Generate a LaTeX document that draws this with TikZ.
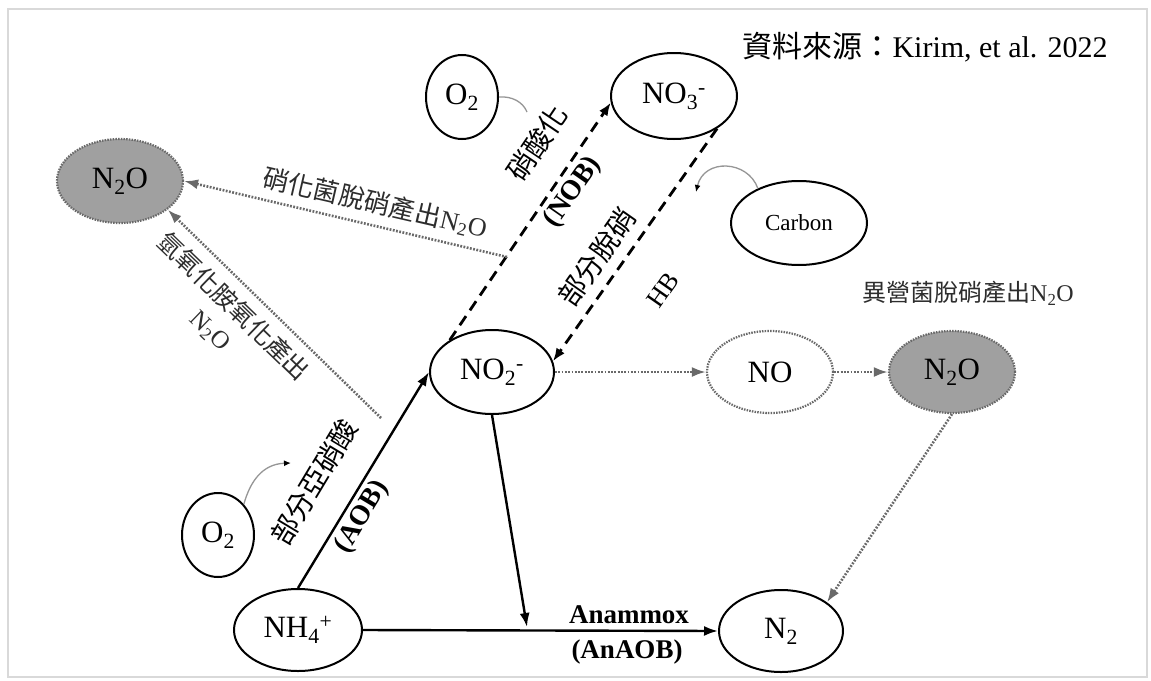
\documentclass[tikz,border=0pt]{standalone}
\usepackage{fontspec}
\setmainfont{Liberation Serif}
\newfontfamily\cjk{Noto Sans CJK TC}
\usetikzlibrary{shapes.geometric,arrows.meta}
\definecolor{dotgray}{RGB}{105,105,105}
\definecolor{fillgray}{RGB}{160,160,160}
\definecolor{lblgray}{RGB}{45,45,45}
\definecolor{curvegray}{RGB}{150,150,150}
\begin{document}
\begin{tikzpicture}[x=1pt,y=-1pt,
  ell/.style={ellipse, draw=black, line width=2pt, inner sep=0pt, font=\fontsize{31}{36}\selectfont},
  dotell/.style={ellipse, draw=dotgray, line width=2.2pt, dash pattern=on 1.5pt off 1.2pt, inner sep=0pt, font=\fontsize{31}{36}\selectfont},
  solidarrow/.style={line width=2.4pt, -{Latex[length=14pt,width=10pt]}},
  dasharrow/.style={line width=2.8pt, dash pattern=on 11pt off 7pt, -{Latex[length=13pt,width=10pt]}},
  dotarrow/.style={draw=dotgray, line width=2.6pt, dash pattern=on 1.8pt off 1.5pt, -{Latex[length=14pt,width=10pt]}},
  thincurve/.style={draw=curvegray, line width=1.3pt},
  lbl/.style={inner sep=0pt, text=black},
]
\useasboundingbox (0,0) rectangle (1151,680);
\fill[white] (0,0) rectangle (1151,680);
\draw[black!15, line width=2pt] (8,9) rectangle (1147,677);

% title
\node[lbl, font=\fontsize{30}{34}\selectfont] (title) at (925,47) {{\cjk 資料來源：}Kirim, et al. 2022};

% nodes
\node[ell, minimum width=72pt, minimum height=84pt] (o2t) at (462,97) {O\textsubscript{2}};
\node[ell, minimum width=126pt, minimum height=86pt] (no3) at (674,96) {NO\textsubscript{3}\textsuperscript{-}};
\node[dotell, fill=fillgray, minimum width=126pt, minimum height=84pt] (n2oL) at (120,181) {N\textsubscript{2}O};
\node[ell, minimum width=136pt, minimum height=84pt, font=\fontsize{23}{27}\selectfont] (carbon) at (799,223) {Carbon};
\node[ell, minimum width=124pt, minimum height=84pt] (no2) at (492,372) {NO\textsubscript{2}\textsuperscript{-}};
\node[dotell, fill=white, minimum width=126pt, minimum height=82pt] (no) at (770,372) {NO};
\node[dotell, fill=fillgray, minimum width=126pt, minimum height=82pt] (n2oR) at (952,372) {N\textsubscript{2}O};
\node[ell, minimum width=124pt, minimum height=82pt] (n2) at (781,631) {N\textsubscript{2}};
\node[ell, minimum width=128pt, minimum height=82pt] (nh4) at (298,630) {NH\textsubscript{4}\textsuperscript{+}};
\node[ell, minimum width=72pt, minimum height=84pt] (o2b) at (218,535) {O\textsubscript{2}};

% free ends
\coordinate (d1) at (507,257);
\coordinate (h1) at (381,418);
\coordinate (ana) at (527,627);
\coordinate (c1) at (527,112);
\coordinate (c2) at (696,192);
\coordinate (c3) at (291,463);

% solid arrows
\draw[solidarrow] (nh4.north) -- (no2.west);
\draw[solidarrow] (no2.south) -- (ana);
\draw[solidarrow] (nh4.east) -- (n2.west);

% dashed arrows
\draw[dasharrow] (no2.143) -- (no3.186);
\draw[dasharrow] (no3.-37) -- (no2.10);

% dotted arrows
\draw[dotarrow] (d1) -- (n2oL.east);
\draw[dotarrow] (h1) -- (n2oL.-31);
\draw[dotarrow] (no2.east) -- (no.west);
\draw[dotarrow] (no.east) -- (n2oR.west);
\draw[dotarrow] (n2oR.south) -- (n2.32);

% thin curves
\draw[thincurve] (o2t.east) .. controls (512,96) and (523,102) .. (c1);
\draw[thincurve, -{Latex[length=7pt,width=6pt,color=black]}] (carbon.140) .. controls (748,160) and (704,158) .. (c2);
\draw[thincurve, -{Latex[length=7pt,width=6pt,color=black]}] (o2b.50) .. controls (250,482) and (262,464) .. (c3);

% labels
\node[lbl, text=lblgray, rotate=-13, font=\fontsize{26}{30}\selectfont] (l1) at (375,203) {{\cjk 硝化菌脫硝產出}N\textsubscript{2}O};
\node[lbl, text=lblgray, rotate=-44, align=center, font=\fontsize{25}{32}\selectfont] (l2) at (222,318) {{\cjk 氫氧化胺氧化產出}\\N\textsubscript{2}O};
\node[lbl, rotate=56, font=\fontsize{28}{32}\selectfont] (l3) at (537,143) {\cjk 硝酸化};
\node[lbl, rotate=55, font=\fontsize{28}{32}\selectfont\bfseries] (l4) at (573,192) {(NOB)};
\node[lbl, rotate=55, font=\fontsize{28}{32}\selectfont] (l5) at (597,257) {\cjk 部分脫硝};
\node[lbl, rotate=55, font=\fontsize{26}{30}\selectfont] (l6) at (663,290) {HB};
\node[lbl, text=lblgray, font=\fontsize{24}{28}\selectfont] (l7) at (968,293) {{\cjk 異營菌脫硝產出}N\textsubscript{2}O};
\node[lbl, rotate=59, font=\fontsize{28}{32}\selectfont] (l8) at (314,482) {\cjk 部分亞硝酸};
\node[lbl, rotate=59, font=\fontsize{28}{32}\selectfont\bfseries] (l9) at (362,517) {(AOB)};
\node[lbl, font=\fontsize{27}{30}\selectfont\bfseries] (l10) at (629,615) {Anammox};
\node[lbl, font=\fontsize{27}{30}\selectfont\bfseries] (l11) at (627,652) {(AnAOB)};
\end{tikzpicture}
\end{document}
